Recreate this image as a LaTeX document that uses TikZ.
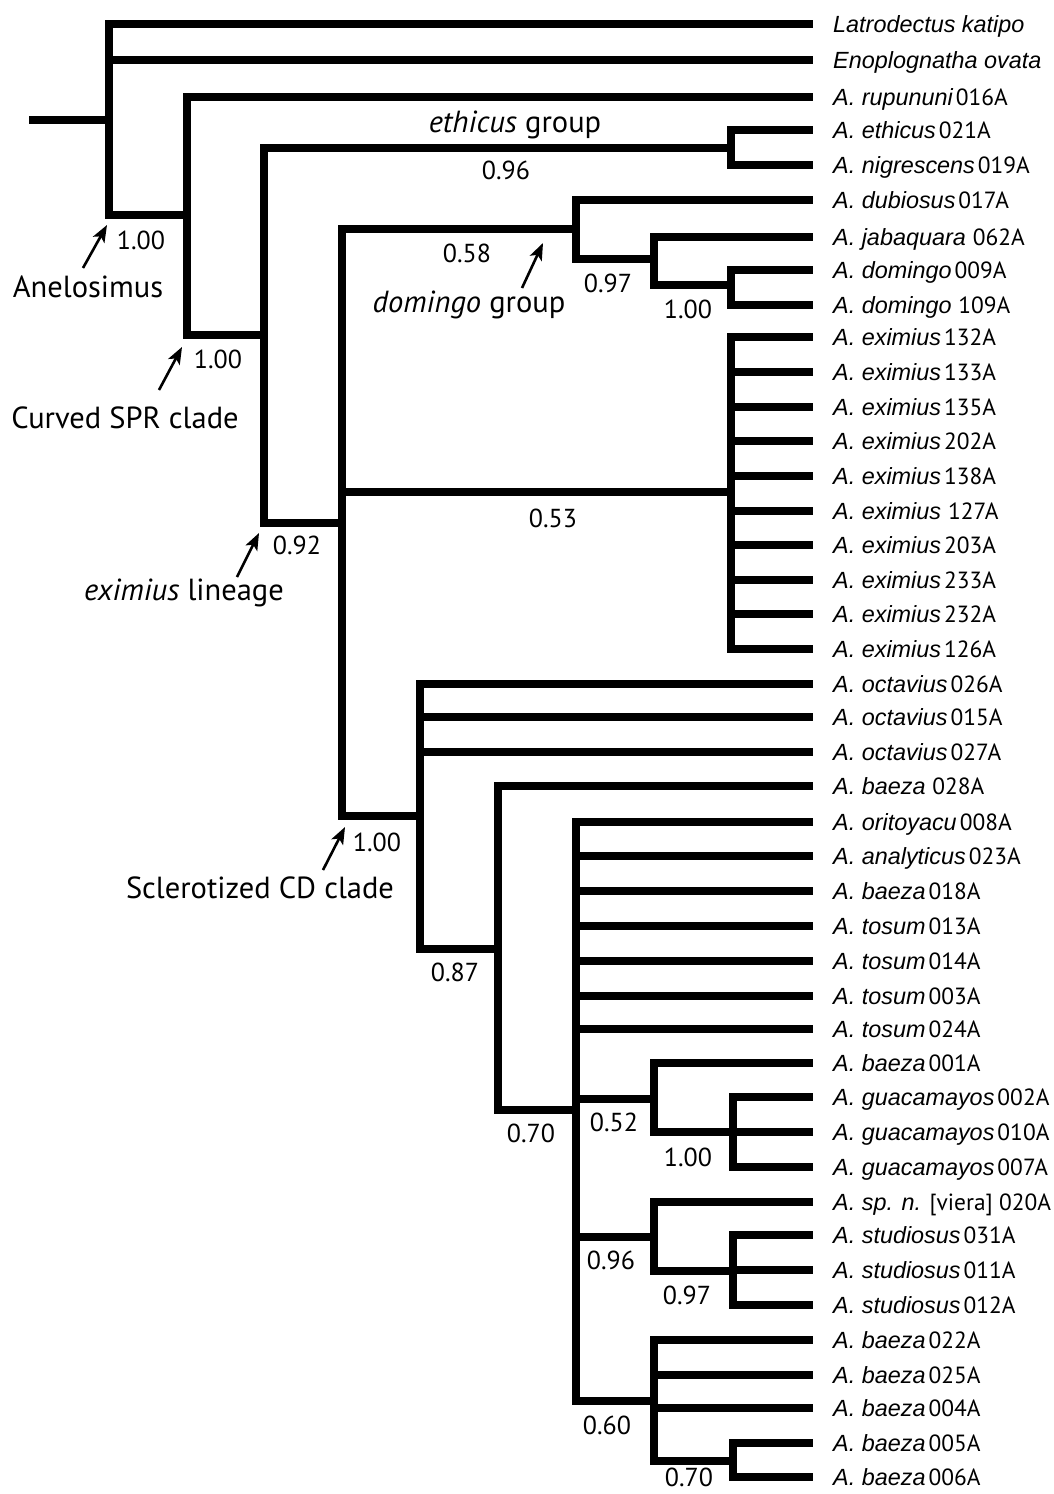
\documentclass[tikz,border=0pt]{standalone}
\usepackage{fontspec}
\setmainfont{PT Sans}
\newfontfamily\helv{Liberation Sans}
\usetikzlibrary{arrows.meta}
\newcommand\splab[2]{{\helv\itshape A. #1}\hspace{3pt}#2}
\begin{document}
\begin{tikzpicture}[x=1pt,y=-1pt,
  branch/.style={line width=8pt, line cap=rect, line join=miter},
  leaflab/.style={anchor=base west, inner sep=0pt, font=\fontsize{23.4}{26}\selectfont},
  supp/.style={inner sep=0pt, font=\fontsize{26}{30}\selectfont},
  clade/.style={anchor=base, inner sep=0pt, font=\fontsize{30.5}{34}\selectfont},
  pointer/.style={line width=2.6pt, -{Stealth[length=17pt,width=13pt,inset=4pt]}}]
\useasboundingbox (0,0) rectangle (1053,1494);
\fill[white] (0,0) rectangle (1053,1494);

% leaves
\foreach \i/\y in {1/24,2/60,3/97,4/130,5/165,6/200,7/237,8/270,9/305,
  10/337,11/372,12/407,13/441,14/476,15/511,16/545,17/580,18/614,19/649,
  20/684,21/717,22/752,23/786,24/822,25/856,26/891,27/926,28/961,29/996,30/1029,
  31/1063,32/1097,33/1132,34/1167,35/1202,36/1235,37/1270,38/1305,
  39/1340,40/1375,41/1408,42/1443,43/1477}
  \coordinate (l\i) at (809,\y);

% internal nodes
\coordinate (stem) at (33,120);
\coordinate (R) at (109,120);
\coordinate (Anel) at (187,215);
\coordinate (SPR) at (264,335);
\coordinate (eth) at (731,148);
\coordinate (exl) at (342,523);
\coordinate (dom) at (576,229);
\coordinate (d2) at (654,259);
\coordinate (d3) at (731,285);
\coordinate (exi) at (731,492);
\coordinate (scl) at (420,816);
\coordinate (n87) at (498,949);
\coordinate (n70) at (576,1110);
\coordinate (n52) at (654,1099);
\coordinate (g) at (733,1132);
\coordinate (n96) at (654,1237);
\coordinate (s) at (733,1271);
\coordinate (n60) at (654,1401);
\coordinate (b) at (733,1461);

% branches
\draw[branch] (stem) -- (R);
\foreach \c in {l1,l2,Anel} \draw[branch] (R) |- (\c);
\foreach \c in {l3,SPR} \draw[branch] (Anel) |- (\c);
\foreach \c in {eth,exl} \draw[branch] (SPR) |- (\c);
\foreach \c in {l4,l5} \draw[branch] (eth) |- (\c);
\foreach \c in {dom,exi,scl} \draw[branch] (exl) |- (\c);
\foreach \c in {l6,d2} \draw[branch] (dom) |- (\c);
\foreach \c in {l7,d3} \draw[branch] (d2) |- (\c);
\foreach \c in {l8,l9} \draw[branch] (d3) |- (\c);
\foreach \c in {l10,l11,l12,l13,l14,l15,l16,l17,l18,l19} \draw[branch] (exi) |- (\c);
\foreach \c in {l20,l21,l22,n87} \draw[branch] (scl) |- (\c);
\foreach \c in {l23,n70} \draw[branch] (n87) |- (\c);
\foreach \c in {l24,l25,l26,l27,l28,l29,l30,n52,n96,n60} \draw[branch] (n70) |- (\c);
\foreach \c in {l31,g} \draw[branch] (n52) |- (\c);
\foreach \c in {l32,l33,l34} \draw[branch] (g) |- (\c);
\foreach \c in {l35,s} \draw[branch] (n96) |- (\c);
\foreach \c in {l36,l37,l38} \draw[branch] (s) |- (\c);
\foreach \c in {l39,l40,l41,b} \draw[branch] (n60) |- (\c);
\foreach \c in {l42,l43} \draw[branch] (b) |- (\c);

% leaf labels
\node[leaflab] (t1) at (833,32) {\helv\itshape Latrodectus katipo};
\node[leaflab] (t2) at (833,68) {\helv\itshape Enoplognatha ovata};
\node[leaflab] (t3) at (833,105) {\splab{rupununi}{016A}};
\node[leaflab] (t4) at (833,138) {\splab{ethicus}{021A}};
\node[leaflab] (t5) at (833,173) {\splab{nigrescens}{019A}};
\node[leaflab] (t6) at (833,208) {\splab{dubiosus}{017A}};
\node[leaflab] (t7) at (833,245) {\splab{jabaquara}{\,062A}};
\node[leaflab] (t8) at (833,278) {\splab{domingo}{009A}};
\node[leaflab] (t9) at (833,313) {\splab{domingo}{\,109A}};
\node[leaflab] (t10) at (833,345) {\splab{eximius}{132A}};
\node[leaflab] (t11) at (833,380) {\splab{eximius}{133A}};
\node[leaflab] (t12) at (833,415) {\splab{eximius}{135A}};
\node[leaflab] (t13) at (833,449) {\splab{eximius}{202A}};
\node[leaflab] (t14) at (833,484) {\splab{eximius}{138A}};
\node[leaflab] (t15) at (833,519) {\splab{eximius}{\,127A}};
\node[leaflab] (t16) at (833,553) {\splab{eximius}{203A}};
\node[leaflab] (t17) at (833,588) {\splab{eximius}{233A}};
\node[leaflab] (t18) at (833,622) {\splab{eximius}{232A}};
\node[leaflab] (t19) at (833,657) {\splab{eximius}{126A}};
\node[leaflab] (t20) at (833,692) {\splab{octavius}{026A}};
\node[leaflab] (t21) at (833,725) {\splab{octavius}{015A}};
\node[leaflab] (t22) at (833,760) {\splab{octavius}{027A}};
\node[leaflab] (t23) at (833,794) {\splab{baeza}{\,028A}};
\node[leaflab] (t24) at (833,830) {\splab{oritoyacu}{008A}};
\node[leaflab] (t25) at (833,864) {\splab{analyticus}{023A}};
\node[leaflab] (t26) at (833,899) {\splab{baeza}{018A}};
\node[leaflab] (t27) at (833,934) {\splab{tosum}{013A}};
\node[leaflab] (t28) at (833,969) {\splab{tosum}{014A}};
\node[leaflab] (t29) at (833,1004) {\splab{tosum}{003A}};
\node[leaflab] (t30) at (833,1037) {\splab{tosum}{024A}};
\node[leaflab] (t31) at (833,1071) {\splab{baeza}{001A}};
\node[leaflab] (t32) at (833,1105) {\splab{guacamayos}{002A}};
\node[leaflab] (t33) at (833,1140) {\splab{guacamayos}{010A}};
\node[leaflab] (t34) at (833,1175) {\splab{guacamayos}{007A}};
\node[leaflab] (t35) at (833,1210) {{\helv\itshape A. sp. n.} [viera] 020A};
\node[leaflab] (t36) at (833,1243) {\splab{studiosus}{031A}};
\node[leaflab] (t37) at (833,1278) {\splab{studiosus}{011A}};
\node[leaflab] (t38) at (833,1313) {\splab{studiosus}{012A}};
\node[leaflab] (t39) at (833,1348) {\splab{baeza}{022A}};
\node[leaflab] (t40) at (833,1383) {\splab{baeza}{025A}};
\node[leaflab] (t41) at (833,1416) {\splab{baeza}{004A}};
\node[leaflab] (t42) at (833,1451) {\splab{baeza}{005A}};
\node[leaflab] (t43) at (833,1485) {\splab{baeza}{006A}};

% support values
\node[supp] (s1) at (141,240) {1.00};
\node[supp] (s2) at (218,359) {1.00};
\node[supp] (s3) at (297,545) {0.92};
\node[supp] (s4) at (506,170) {0.96};
\node[supp] (s5) at (467,253) {0.58};
\node[supp] (s6) at (608,283) {0.97};
\node[supp] (s7) at (688,309) {1.00};
\node[supp] (s8) at (553,518) {0.53};
\node[supp] (s9) at (377,842) {1.00};
\node[supp] (s10) at (455,972) {0.87};
\node[supp] (s11) at (531,1133) {0.70};
\node[supp] (s12) at (614,1122) {0.52};
\node[supp] (s13) at (688,1157) {1.00};
\node[supp] (s14) at (611,1260) {0.96};
\node[supp] (s15) at (687,1295) {0.97};
\node[supp] (s16) at (607,1425) {0.60};
\node[supp] (s17) at (689,1477) {0.70};

% clade labels
\node[clade] (c1) at (88,297) {Anelosimus};
\node[clade] (c2) at (125,428) {Curved SPR clade};
\node[clade] (c3) at (184,600) {{\itshape eximius} lineage};
\node[clade] (c4) at (515,132) {{\itshape ethicus} group};
\node[clade] (c5) at (469,312) {{\itshape domingo} group};
\node[clade] (c6) at (260,898) {Sclerotized CD clade};

% pointers
\coordinate (a1s) at (83,268); \coordinate (a1e) at (107,225);
\coordinate (a2s) at (159,390); \coordinate (a2e) at (182,347);
\coordinate (a3s) at (237,577); \coordinate (a3e) at (259,533);
\coordinate (a4s) at (522,288); \coordinate (a4e) at (543,243);
\coordinate (a5s) at (323,870); \coordinate (a5e) at (345,827);
\draw[pointer] (a1s) -- (a1e);
\draw[pointer] (a2s) -- (a2e);
\draw[pointer] (a3s) -- (a3e);
\draw[pointer] (a4s) -- (a4e);
\draw[pointer] (a5s) -- (a5e);
\end{tikzpicture}
\end{document}
